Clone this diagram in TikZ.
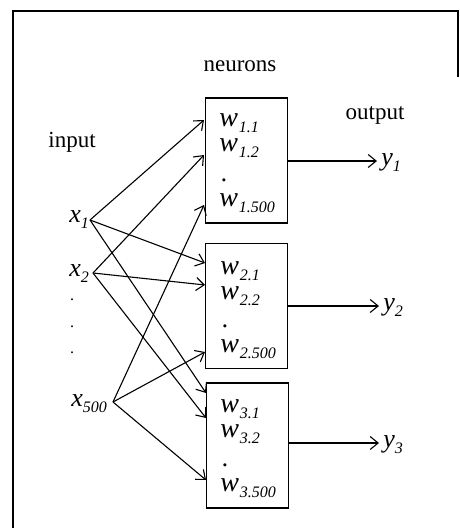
\documentclass[tikz,border=0pt]{standalone}
\usepackage{fontspec}
\setmainfont{Liberation Serif}
\usetikzlibrary{arrows.meta}
\newcommand\sbs[1]{\raisebox{-0.5ex}{\fontsize{8}{9}\selectfont\itshape #1}}
\newcommand\wlab[1]{{\fontsize{14}{15}\selectfont\textit{w}}\kern0.4pt\sbs{#1}}
\tikzset{
  word/.style={font=\fontsize{11.5}{13}\selectfont, inner sep=0pt, anchor=mid},
  ilab/.style={font=\fontsize{13}{14}\selectfont, inner sep=1.5pt, anchor=mid west},
  neuron/.style={draw, line width=0.8pt, minimum width=41pt, minimum height=62.5pt, inner sep=0pt},
  arr/.style={line width=0.55pt, -{Straight Barb[length=4pt,width=6.5pt,line width=0.55pt]}},
  frame/.style={line width=0.8pt}
}
\begin{document}
\begin{tikzpicture}[x=0.5pt,y=-0.5pt]
\useasboundingbox (0,0) rectangle (459,528);
\draw[frame] (13,528) -- (13,11) -- (458,11) -- (458,77);

% titles
\node[word] (tneur) at (240,67) {neurons};
\node[word] (tin) at (72,143) {input};
\node[word] (tout) at (375,115) {output};

% neuron boxes
\node[neuron] (b1) at (246.5,160.5) {};
\node[neuron] (b2) at (246.5,306) {};
\node[neuron] (b3) at (247.5,445.5) {};

% weights
\node[ilab, inner sep=0pt] (w11) at (219,122) {\wlab{1.1}};
\node[ilab, inner sep=0pt] (w12) at (219,147) {\wlab{1.2}};
\node[ilab, inner sep=0pt] (d1) at (221,177) {\textit{.}};
\node[ilab, inner sep=0pt] (w1n) at (219,202) {\wlab{1.500}};
\node[ilab, inner sep=0pt] (w21) at (220,270) {\wlab{2.1}};
\node[ilab, inner sep=0pt] (w22) at (220,295) {\wlab{2.2}};
\node[ilab, inner sep=0pt] (d2) at (222,323) {\textit{.}};
\node[ilab, inner sep=0pt] (w2n) at (220,348) {\wlab{2.500}};
\node[ilab, inner sep=0pt] (w31) at (220,408) {\wlab{3.1}};
\node[ilab, inner sep=0pt] (w32) at (220,433) {\wlab{3.2}};
\node[ilab, inner sep=0pt] (d3) at (222,462) {\textit{.}};
\node[ilab, inner sep=0pt] (w3n) at (220,487) {\wlab{3.500}};

% inputs
\node[ilab] (x1) at (66,218) {\textit{x}\sbs{1}};
\node[ilab] (x2) at (66,272) {\textit{x}\sbs{2}};
\node[ilab] (x500) at (68,402) {\textit{x}\sbs{500}};
\node[inner sep=0pt, font=\fontsize{8}{8}\selectfont] (dA) at (72,300) {.};
\node[inner sep=0pt, font=\fontsize{8}{8}\selectfont] (dB) at (72,327) {.};
\node[inner sep=0pt, font=\fontsize{8}{8}\selectfont] (dC) at (72,353) {.};

% source / target coordinates
\coordinate (s1) at (90,220);
\coordinate (s2) at (93,273);
\coordinate (s3) at (113,402);
\coordinate (t11) at (204,120);
\coordinate (t12) at (204,155);
\coordinate (t13) at (204,205);
\coordinate (t21) at (205,263);
\coordinate (t22) at (205,285);
\coordinate (t23) at (205,352);
\coordinate (t31) at (206,393);
\coordinate (t32) at (206,418);
\coordinate (t33) at (206,480);

\draw[arr] (s1) -- (t11);
\draw[arr] (s1) -- (t21);
\draw[arr] (s1) -- (t31);
\draw[arr] (s2) -- (t12);
\draw[arr] (s2) -- (t22);
\draw[arr] (s2) -- (t32);
\draw[arr] (s3) -- (t13);
\draw[arr] (s3) -- (t23);
\draw[arr] (s3) -- (t33);

% outputs
\node[ilab, inner sep=0pt] (y1) at (381,161) {\textit{y}\sbs{1}};
\node[ilab, inner sep=0pt] (y2) at (383,306) {\textit{y}\sbs{2}};
\node[ilab, inner sep=0pt] (y3) at (383,443) {\textit{y}\sbs{3}};
\coordinate (o1) at (377,161);
\coordinate (o2) at (379,306);
\coordinate (o3) at (379,443);
\draw[arr] (b1.east |- o1) -- (o1);
\draw[arr] (b2.east |- o2) -- (o2);
\draw[arr] (b3.east |- o3) -- (o3);
\end{tikzpicture}
\end{document}
